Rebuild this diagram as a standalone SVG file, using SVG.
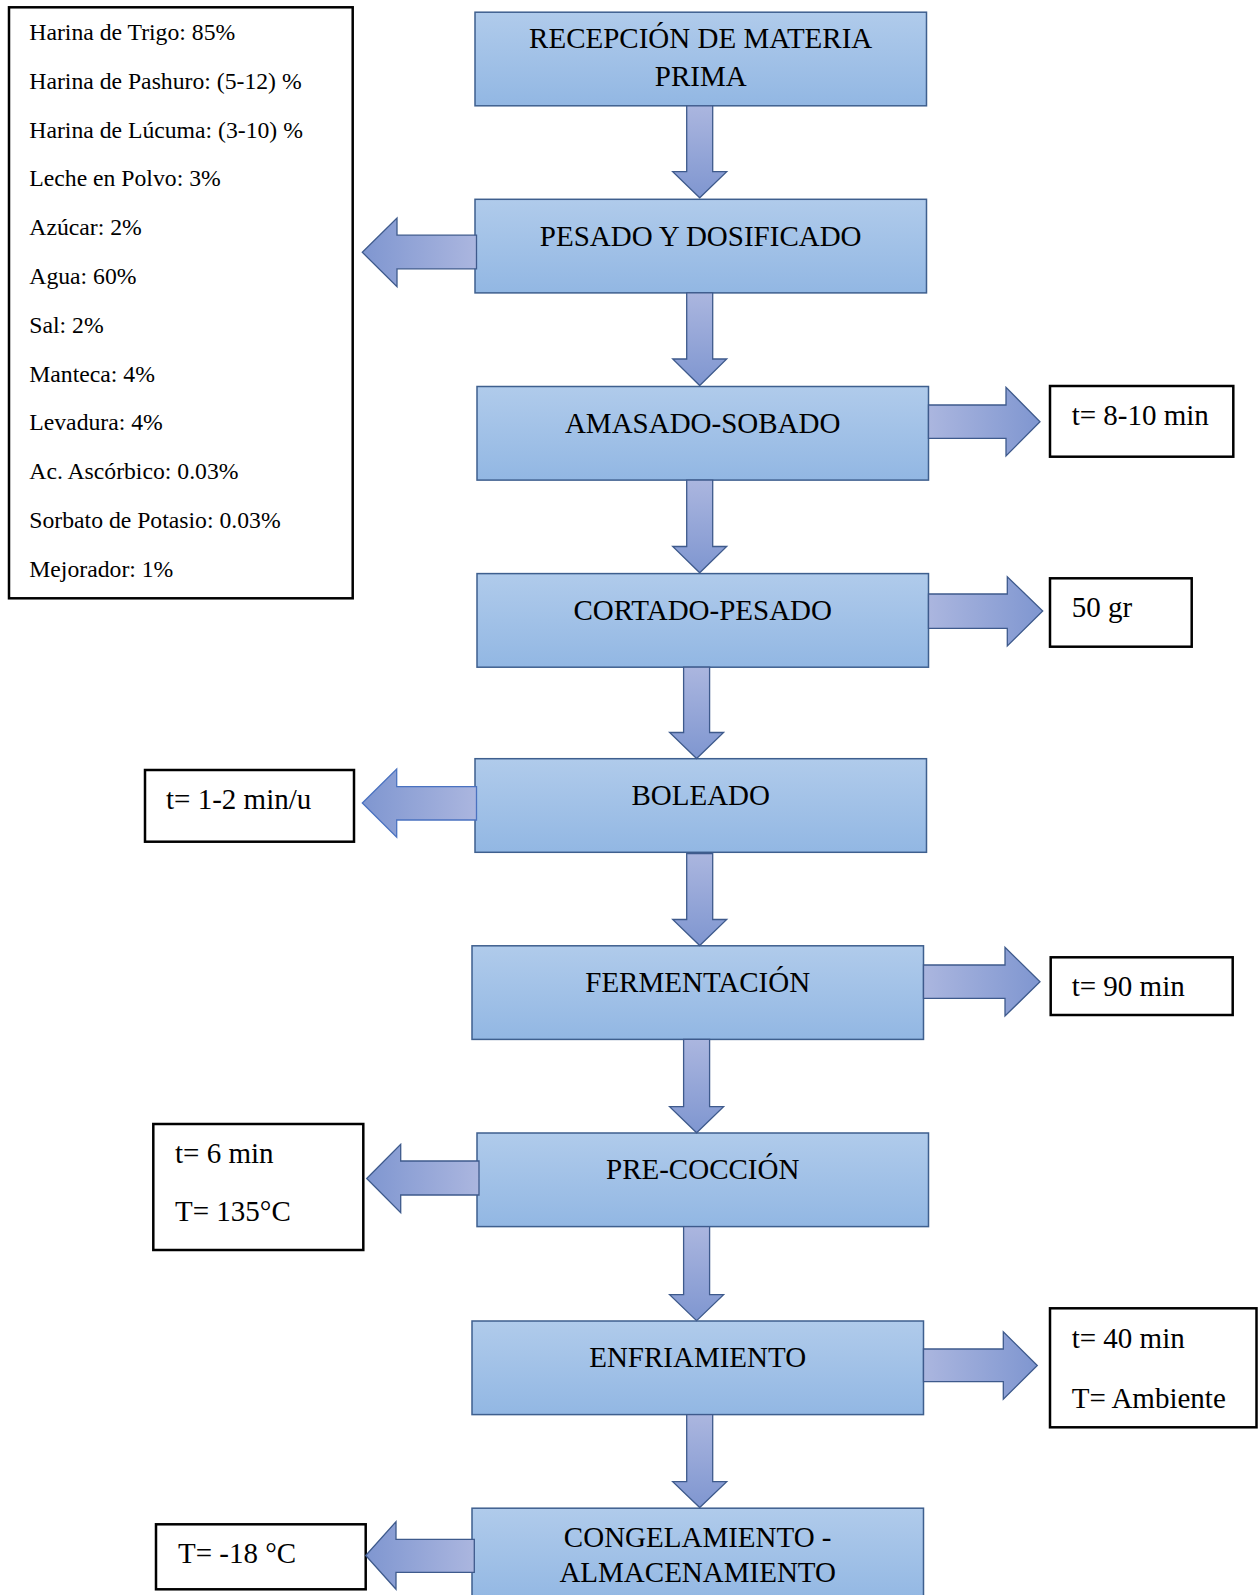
<svg xmlns="http://www.w3.org/2000/svg" width="1258" height="1595" viewBox="0 0 1258 1595">
<defs>
<linearGradient id="gBox" x1="0" y1="0" x2="0" y2="1">
<stop offset="0" stop-color="#b0cbeb"/>
<stop offset="1" stop-color="#92b7e3"/>
</linearGradient>
<linearGradient id="gDown" x1="0" y1="0" x2="0" y2="1">
<stop offset="0" stop-color="#abb6df"/>
<stop offset="1" stop-color="#7f96d0"/>
</linearGradient>
<linearGradient id="gRight" x1="0" y1="0" x2="1" y2="0">
<stop offset="0" stop-color="#abb6df"/>
<stop offset="1" stop-color="#7f96d0"/>
</linearGradient>
<linearGradient id="gLeft" x1="1" y1="0" x2="0" y2="0">
<stop offset="0" stop-color="#abb6df"/>
<stop offset="1" stop-color="#7f96d0"/>
</linearGradient>
</defs>
<style>
.box{fill:url(#gBox);stroke:#3e5f8e;stroke-width:1.5}
.note{fill:#fff;stroke:#000;stroke-width:2.5}
.t{font-family:"Liberation Serif","Times New Roman",serif;font-size:29px;fill:#000}
.c{text-anchor:middle}
.ing{font-family:"Liberation Serif","Times New Roman",serif;font-size:23.7px;fill:#000}
.ad{fill:url(#gDown);stroke:#3e5a8c;stroke-width:1.3}
.ar{fill:url(#gRight);stroke:#3e5a8c;stroke-width:1.3}
.al{fill:url(#gLeft);stroke:#3e5a8c;stroke-width:1.3}
</style>
<rect width="1258" height="1595" fill="#fff"/>

<g id="ingredientes">
<rect class="note" x="9" y="7.3" width="343.7" height="591"/>
<text class="ing" x="29.3" y="40">Harina de Trigo: 85%</text>
<text class="ing" x="29.3" y="88.8">Harina de Pashuro: (5-12) %</text>
<text class="ing" x="29.3" y="137.6">Harina de Lúcuma: (3-10) %</text>
<text class="ing" x="29.3" y="186.4">Leche en Polvo: 3%</text>
<text class="ing" x="29.3" y="235.2">Azúcar: 2%</text>
<text class="ing" x="29.3" y="284">Agua: 60%</text>
<text class="ing" x="29.3" y="332.8">Sal: 2%</text>
<text class="ing" x="29.3" y="381.6">Manteca: 4%</text>
<text class="ing" x="29.3" y="430.4">Levadura: 4%</text>
<text class="ing" x="29.3" y="479.2">Ac. Ascórbico: 0.03%</text>
<text class="ing" x="29.3" y="528">Sorbato de Potasio: 0.03%</text>
<text class="ing" x="29.3" y="576.8">Mejorador: 1%</text>
</g>

<g id="recepcion">
<rect class="box" x="475" y="12.2" width="451.5" height="93.6"/>
<text class="t c" x="700.7" y="48.3">RECEPCIÓN DE MATERIA</text>
<text class="t c" x="700.7" y="86">PRIMA</text>
</g>
<g id="pesado">
<rect class="box" x="475" y="199.3" width="451.5" height="93.6"/>
<text class="t c" x="700.7" y="245.5">PESADO Y DOSIFICADO</text>
</g>
<g id="amasado">
<rect class="box" x="477" y="386.5" width="451.5" height="93.6"/>
<text class="t c" x="702.7" y="432.5">AMASADO-SOBADO</text>
</g>
<g id="cortado">
<rect class="box" x="477" y="573.6" width="451.5" height="93.6"/>
<text class="t c" x="702.7" y="619.6">CORTADO-PESADO</text>
</g>
<g id="boleado">
<rect class="box" x="475" y="758.7" width="451.5" height="93.6"/>
<text class="t c" x="700.7" y="804.7">BOLEADO</text>
</g>
<g id="fermentacion">
<rect class="box" x="472" y="945.8" width="451.5" height="93.6"/>
<text class="t c" x="697.7" y="991.5">FERMENTACIÓN</text>
</g>
<g id="precoccion">
<rect class="box" x="477" y="1133" width="451.5" height="93.6"/>
<text class="t c" x="702.7" y="1179">PRE-COCCIÓN</text>
</g>
<g id="enfriamiento">
<rect class="box" x="472" y="1321" width="451.5" height="93.6"/>
<text class="t c" x="697.7" y="1367">ENFRIAMIENTO</text>
</g>
<g id="congelamiento">
<rect class="box" x="472" y="1508.2" width="451.5" height="95"/>
<text class="t c" x="697.7" y="1546.7">CONGELAMIENTO -</text>
<text class="t c" x="697.7" y="1582.3">ALMACENAMIENTO</text>
</g>

<g id="nota-amasado">
<rect class="note" x="1050" y="386" width="183.3" height="70.7"/>
<text class="t" x="1071.7" y="425">t= 8-10 min</text>
</g>
<g id="nota-cortado">
<rect class="note" x="1050" y="578.3" width="141.7" height="68.4"/>
<text class="t" x="1071.7" y="617.3">50 gr</text>
</g>
<g id="nota-boleado">
<rect class="note" x="145" y="770" width="209" height="71.7"/>
<text class="t" x="166" y="809">t= 1-2 min/u</text>
</g>
<g id="nota-fermentacion">
<rect class="note" x="1050.7" y="957.3" width="182" height="57.7"/>
<text class="t" x="1071.7" y="996">t= 90 min</text>
</g>
<g id="nota-precoccion">
<rect class="note" x="153.3" y="1124" width="210" height="126"/>
<text class="t" x="175" y="1163.3">t= 6 min</text>
<text class="t" x="175" y="1220.7">T= 135°C</text>
</g>
<g id="nota-enfriamiento">
<rect class="note" x="1050" y="1308.3" width="206.5" height="119"/>
<text class="t" x="1071.7" y="1348.3">t= 40 min</text>
<text class="t" x="1071.7" y="1407.7">T= Ambiente</text>
</g>
<g id="nota-congelamiento">
<rect class="note" x="156" y="1524.3" width="209.7" height="65"/>
<text class="t" x="178" y="1563.3">T= -18 °C</text>
</g>

<g id="conectores">
<polygon class="ad" points="686.7,105.8 712.7,105.8 712.7,171.7 726.7,171.7 699.7,197.8 672.7,171.7 686.7,171.7"/>
<polygon class="ad" points="686.7,292.9 712.7,292.9 712.7,359 726.7,359 699.7,385.5 672.7,359 686.7,359"/>
<polygon class="ad" points="686.7,480.1 712.7,480.1 712.7,546.5 726.7,546.5 699.7,572.8 672.7,546.5 686.7,546.5"/>
<polygon class="ad" points="683.6,667.2 709.6,667.2 709.6,732.5 723.6,732.5 696.6,758.5 669.6,732.5 683.6,732.5"/>
<polygon class="ad" points="686.7,853.5 712.7,853.5 712.7,919.5 726.7,919.5 699.7,945.5 672.7,919.5 686.7,919.5"/>
<polygon class="ad" points="683.6,1039.4 709.6,1039.4 709.6,1106.7 723.6,1106.7 696.6,1132.8 669.6,1106.7 683.6,1106.7"/>
<polygon class="ad" points="683.6,1226.6 709.6,1226.6 709.6,1294.6 723.6,1294.6 696.6,1320.7 669.6,1294.6 683.6,1294.6"/>
<polygon class="ad" points="686.7,1414.7 712.7,1414.7 712.7,1481.7 726.7,1481.7 699.7,1507.5 672.7,1481.7 686.7,1481.7"/>

<polygon class="al" points="476.5,235.2 397,235.2 397,218 362.3,252.3 397,286.8 397,268.8 476.5,268.8"/>
<polygon class="ar" points="928.5,405 1006,405 1006,387.4 1040,421.7 1006,456 1006,438.4 928.5,438.4"/>
<polygon class="ar" points="928.5,594 1007.3,594 1007.3,576.7 1042.7,611 1007.3,646 1007.3,628.3 928.5,628.3"/>
<polygon class="al" points="476.5,786.7 396.7,786.7 396.7,769 362.3,803 396.7,837.3 396.7,820 476.5,820" style="stroke:#4a72c0"/>
<polygon class="ar" points="923.5,965 1005,965 1005,947.3 1040,981.7 1005,1016 1005,998.3 923.5,998.3"/>
<polygon class="al" points="479,1161 400.7,1161 400.7,1144.3 366.7,1178.5 400.7,1212.7 400.7,1195 479,1195"/>
<polygon class="ar" points="923.5,1349 1003.3,1349 1003.3,1331.7 1037.3,1365.5 1003.3,1399.3 1003.3,1381.7 923.5,1381.7"/>
<polygon class="al" points="474.3,1539.3 396,1539.3 396,1521.7 365.7,1555.5 396,1589.3 396,1572.3 474.3,1572.3"/>
</g>
</svg>
